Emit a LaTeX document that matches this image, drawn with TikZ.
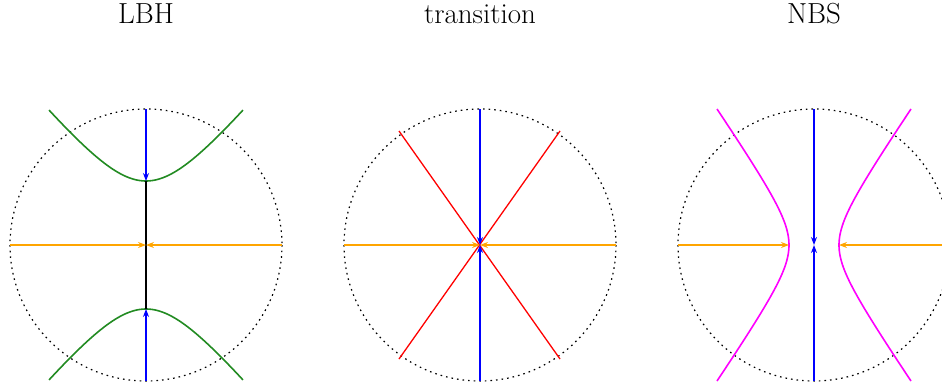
\documentclass[tikz,border=0pt]{standalone}
\usetikzlibrary{arrows.meta}
\definecolor{dgreen}{RGB}{34,139,34}
\definecolor{orng}{RGB}{255,165,0}
\definecolor{mgnt}{RGB}{255,0,255}
\definecolor{blu}{RGB}{0,0,255}
\definecolor{rd}{RGB}{255,0,0}
\begin{document}
\begin{tikzpicture}[x=1pt,y=-1pt,
  bound/.style={black,line width=1.2pt,dash pattern=on 1.6pt off 4pt},
  ar/.style={-{Stealth[length=8pt,width=6pt]}},
  flowb/.style={blu,line width=1.1pt,ar},
  flowo/.style={orng,line width=1.1pt,ar},
  title/.style={font=\fontsize{29}{34}\selectfont,inner sep=0pt,anchor=base}]
\useasboundingbox (0,0) rectangle (942,391);
\clip (0,0) rectangle (942,391);
% titles
\node[title] (t1) at (146,23) {LBH};
\node[title] (t2) at (480,23) {transition};
\node[title] (t3) at (814,23) {NBS};
% ---------- LBH ----------
\coordinate (c1) at (146,245);
\coordinate (c1t) at (146,109);
\coordinate (c1b) at (146,381);
\coordinate (c1l) at (10,245);
\coordinate (c1r) at (282,245);
\coordinate (v1t) at (146,181);
\coordinate (v1b) at (146,309);
\draw[bound] (c1) circle[radius=136];
\draw[dgreen,line width=1.6pt] plot[domain=-97:97,samples=80] ({146+\x},{245-64*sqrt(1+1.5*(\x/64)*(\x/64))});
\draw[dgreen,line width=1.6pt] plot[domain=-97:97,samples=80] ({146+\x},{245+64*sqrt(1+1.5*(\x/64)*(\x/64))});
\draw[black,line width=1.3pt] (v1t) -- (v1b);
\draw[flowb] (c1t) -- (v1t);
\draw[flowb] (c1b) -- (v1b);
\draw[flowo] (c1l) -- (c1);
\draw[flowo] (c1r) -- (c1);
% ---------- transition ----------
\coordinate (c2) at (480,245);
\coordinate (c2t) at (480,109);
\coordinate (c2b) at (480,381);
\coordinate (c2l) at (344,245);
\coordinate (c2r) at (616,245);
\coordinate (r1a) at (399,131);
\coordinate (r1b) at (560,359);
\coordinate (r2a) at (560,131);
\coordinate (r2b) at (399,359);
\draw[bound] (c2) circle[radius=136];
\draw[rd,line width=1.3pt] (r1a) -- (r1b);
\draw[rd,line width=1.3pt] (r2a) -- (r2b);
\draw[flowo] (c2l) -- (c2);
\draw[flowo] (c2r) -- (c2);
\draw[flowb] (c2t) -- (c2);
\draw[flowb] (c2b) -- (c2);
% ---------- NBS ----------
\coordinate (c3) at (814,245);
\coordinate (c3t) at (814,109);
\coordinate (c3b) at (814,381);
\coordinate (c3l) at (678,245);
\coordinate (c3r) at (950,245);
\coordinate (v3l) at (789,245);
\coordinate (v3r) at (839,245);
\draw[bound] (c3) circle[radius=136];
\draw[mgnt,line width=1.6pt] plot[domain=-136:136,samples=80] ({814-25*sqrt(1+0.475*(\x/25)*(\x/25))},{245+\x});
\draw[mgnt,line width=1.6pt] plot[domain=-136:136,samples=80] ({814+25*sqrt(1+0.475*(\x/25)*(\x/25))},{245+\x});
\draw[flowb] (c3t) -- (c3);
\draw[flowb] (c3b) -- (c3);
\draw[flowo] (c3l) -- (v3l);
\draw[flowo] (c3r) -- (v3r);
\end{tikzpicture}
\end{document}
